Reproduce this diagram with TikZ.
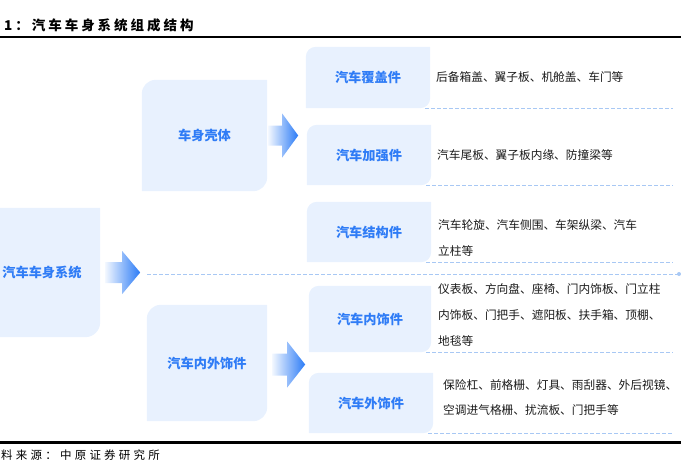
\documentclass[tikz,border=0pt]{standalone}
\usepackage{fontspec}
\usepackage{xcolor}
\usetikzlibrary{backgrounds}
\setmainfont{Noto Sans CJK SC}
\newfontfamily\titlefont{Noto Sans CJK SC}[LetterSpace=22]
\newfontfamily\notefont{Noto Sans CJK SC}[LetterSpace=28]
\definecolor{boxblue}{HTML}{E8F1FE}
\definecolor{labelblue}{HTML}{2F7CF6}
\definecolor{guideblue}{HTML}{A8C8F4}
\definecolor{arrowblue}{HTML}{2B7BF6}
\definecolor{deskink}{HTML}{1A1A1A}

\begin{document}
\begin{tikzpicture}[
  x=1pt,
  y=-1pt,
  every node/.style={inner sep=0pt},
  part/.style={text=labelblue, font=\fontsize{13.2}{16}\selectfont\bfseries,
               align=center},
  desc/.style={anchor=west, text=deskink, align=left,
               font=\fontsize{11.7}{26}\selectfont},
  boxfill/.style={fill=boxblue},
  guide/.style={guideblue, line width=0.9pt, dash pattern=on 3.5pt off 2.5pt},
  rule/.style={black, line width=2.2pt},
  arrowshade/.style={left color=arrowblue!6, right color=arrowblue}
]
  \useasboundingbox (0,0) rectangle (681,464);

  %% ---- 標題與來源 --------------------------------------------------------
  \node[anchor=west, font=\titlefont\fontsize{13.5}{16}\selectfont\bfseries]
    (title) at (4,25) {1：汽车车身系统组成结构};
  \draw[rule] (0,37) -- (681,37);
  \draw[rule] (0,442.5) -- (681,442.5);
  \node[anchor=west, font=\notefont\fontsize{11.5}{14}\selectfont]
    (source) at (1,455) {料来源：中原证券研究所};

  %% ---- 方塊 --------------------------------------------------------------
  \node[part, minimum width=116, minimum height=129] (body)  at (42,272.5)  {汽车车身系统};
  \node[part, minimum width=125, minimum height=111] (shell) at (204.5,135.5) {车身壳体};
  \node[part, minimum width=120, minimum height=116] (trim)  at (207,363)   {汽车内外饰件};

  \node[part, minimum width=124, minimum height=61] (cover) at (368,77.5) {汽车覆盖件};
  \node[part, minimum width=124, minimum height=60] (rein)  at (369,155)  {汽车加强件};
  \node[part, minimum width=124, minimum height=60] (frame) at (369,232)  {汽车结构件};
  \node[part, minimum width=122, minimum height=66] (inner) at (370,319)  {汽车内饰件};
  \node[part, minimum width=124, minimum height=60] (outer) at (371,403)  {汽车外饰件};

  %% 左上、右下圓角
  \begin{scope}[on background layer]
    \foreach \b/\r in {body/15, shell/14, trim/14, cover/10, rein/10,
                       frame/10, inner/10, outer/10}
      \fill[boxfill] (\b.south west)
        -- ([yshift=-\r pt]\b.north west) arc[start angle=180, end angle=90, radius=\r pt]
        -- (\b.north east)
        -- ([yshift=\r pt]\b.south east) arc[start angle=0, end angle=-90, radius=\r pt]
        -- cycle;
  \end{scope}

  %% ---- 說明文字 ----------------------------------------------------------
  \node[desc] (coverdesc) at (436,77)    {后备箱盖、翼子板、机舱盖、车门等};
  \node[desc] (reindesc)  at (437,155)   {汽车尾板、翼子板内缘、防撞梁等};
  \node[desc] (framedesc) at (438,238.5) {汽车轮旋、汽车侧围、车架纵梁、汽车\\立柱等};
  \node[desc] (innerdesc) at (438,315)   {仪表板、方向盘、座椅、门内饰板、门立柱\\
                                          内饰板、门把手、遮阳板、扶手箱、顶棚、\\地毯等};
  \node[desc, font=\fontsize{11.7}{25}\selectfont]
              (outerdesc) at (443,397.5) {保险杠、前格栅、灯具、雨刮器、外后视镜、\\
                                          空调进气格栅、扰流板、门把手等};

  %% ---- 箭頭 --------------------------------------------------------------
  \shade[arrowshade] ([xshift=5pt, yshift=10.5pt]body.east)
    -- ++(17,0) -- ++(0,-11) -- ++(18,21.5) -- ++(-18,21.5) -- ++(0,-11)
    -- ++(-17,0) -- cycle;
  \shade[arrowshade] ([xshift=1pt, yshift=10pt]shell.east)
    -- ++(14,0) -- ++(0,-12) -- ++(16,22) -- ++(-16,22) -- ++(0,-12)
    -- ++(-14,0) -- cycle;
  \shade[arrowshade] ([xshift=5pt, yshift=9.5pt]trim.east)
    -- ++(15,0) -- ++(0,-12) -- ++(18,23) -- ++(-18,23) -- ++(0,-12)
    -- ++(-15,0) -- cycle;

  %% ---- 虛線 --------------------------------------------------------------
  \coordinate (edge)  at (673,0);
  \coordinate (spine) at (679,274);
  \foreach \b in {cover, rein, frame, inner, outer}
    \draw[guide] ([xshift=-5pt]\b.south east) -- (\b.south east -| edge);
  \draw[guide] (147,274) -- (spine);
  \fill[guideblue] (spine) circle[radius=2pt];
\end{tikzpicture}
\end{document}
